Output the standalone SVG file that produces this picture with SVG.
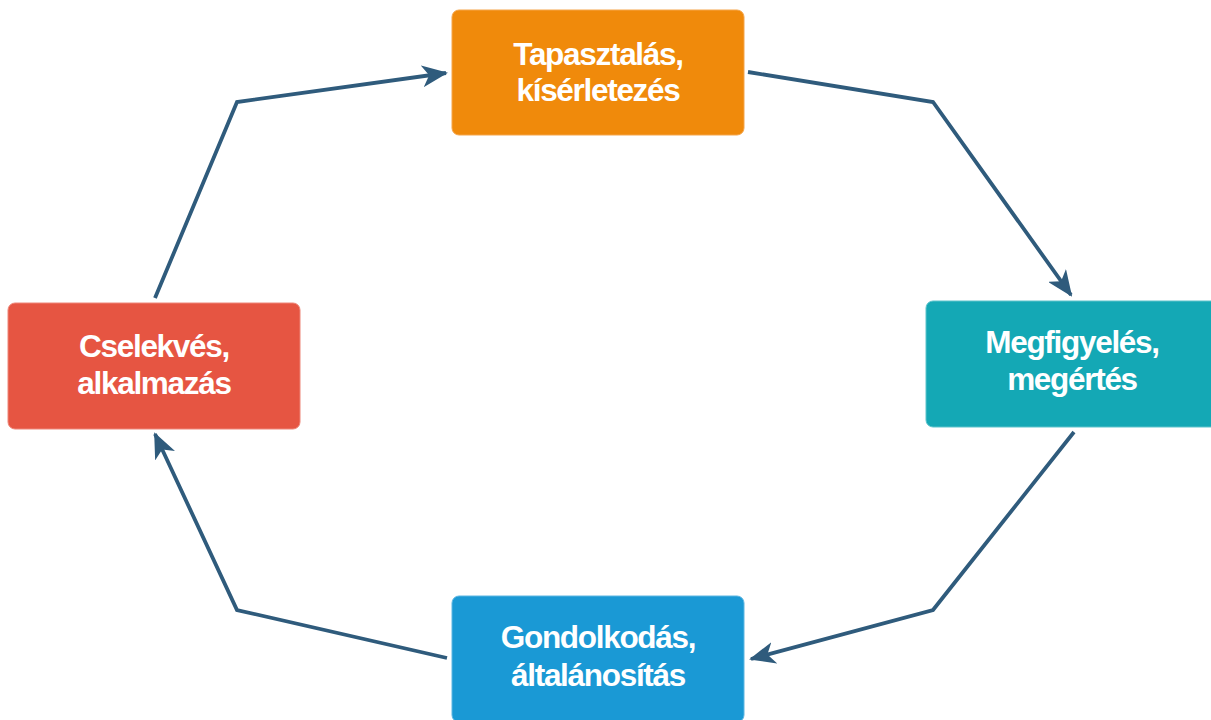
<svg xmlns="http://www.w3.org/2000/svg" width="1211" height="720" viewBox="0 0 1211 720">
<defs>
<style>
.box{stroke-width:1;}
.lbl{font-family:"Liberation Sans",Arial,sans-serif;font-weight:bold;font-size:31.5px;letter-spacing:-1.3px;fill:#ffffff;text-anchor:middle;}
.conn{fill:none;stroke:#2F5B7C;stroke-width:3.8;stroke-linejoin:miter;marker-end:url(#ah);}
</style>
<marker id="ah" markerUnits="userSpaceOnUse" viewBox="0 0 26 22" refX="24" refY="11" markerWidth="26" markerHeight="22" orient="auto">
<path d="M0,0 L26,11 L0,22 L7,11 z" fill="#2F5B7C"/>
</marker>
</defs>
<rect width="1211" height="720" fill="#ffffff"/>
<g id="connectors">
<polyline class="conn" points="748,72 933,102 1071,295"/>
<polyline class="conn" points="1074,432 933,610 751,659"/>
<polyline class="conn" points="447,658 237,610 155,434"/>
<polyline class="conn" points="155,298 237,102 446,73"/>
</g>
<g id="node-top">
<rect class="box" x="452" y="10" width="292" height="125" rx="7" fill="#F08A0B" stroke="#F5A54A"/>
<text class="lbl" x="598" y="65">Tapasztalás,</text>
<text class="lbl" x="598" y="101">kísérletezés</text>
</g>
<g id="node-right">
<rect class="box" x="926" y="301" width="292" height="126" rx="7" fill="#14A8B5" stroke="#5CC3CB"/>
<text class="lbl" x="1072" y="353">Megfigyelés,</text>
<text class="lbl" x="1072" y="390">megértés</text>
</g>
<g id="node-bottom">
<rect class="box" x="452" y="596" width="292" height="126" rx="7" fill="#1A99D5" stroke="#5DB6E2"/>
<text class="lbl" x="598" y="648">Gondolkodás,</text>
<text class="lbl" x="598" y="686">általánosítás</text>
</g>
<g id="node-left">
<rect class="box" x="8" y="303" width="292" height="126" rx="7" fill="#E65542" stroke="#EE8678"/>
<text class="lbl" x="154" y="357">Cselekvés,</text>
<text class="lbl" x="154" y="394">alkalmazás</text>
</g>
</svg>
